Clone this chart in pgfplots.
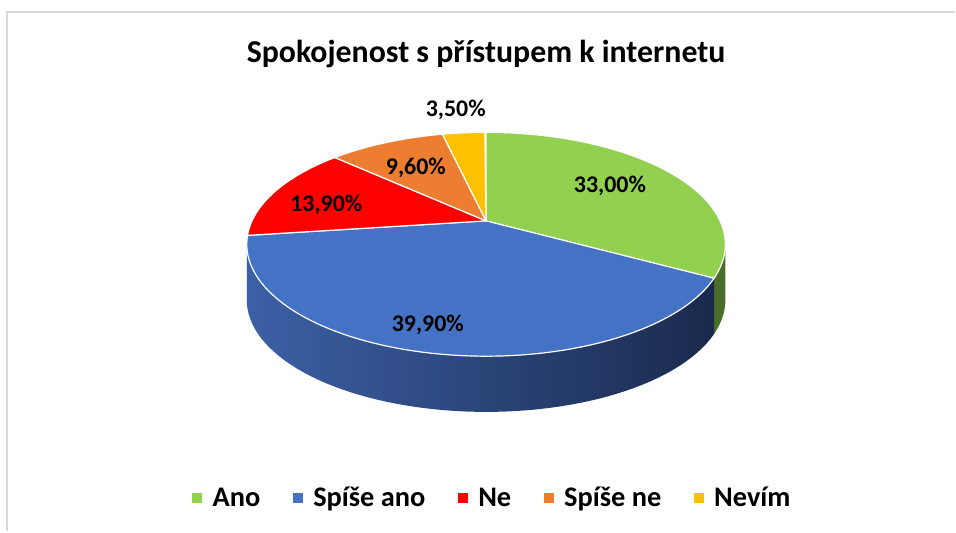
\documentclass[border=0pt]{standalone}
\usepackage{fontspec}
\setmainfont{Carlito}
\usepackage{pgfplots}
\usepackage{pgfplotstable}
\pgfplotsset{compat=1.18}
\definecolor{cAno}{HTML}{92D050}
\definecolor{cSano}{HTML}{4472C4}
\definecolor{cNe}{HTML}{FF0000}
\definecolor{cSne}{HTML}{ED7D31}
\definecolor{cNevim}{HTML}{FFC000}
\definecolor{wallL}{HTML}{3C60A6}
\definecolor{wallR}{HTML}{1A2A4D}
\definecolor{wallG}{HTML}{4A6E2A}
\definecolor{frameC}{HTML}{D9D9D9}

\pgfplotstableread[col sep=comma]{
name,value
Ano,33.0
Spíše ano,39.9
Ne,13.9
Spíše ne,9.6
Nevím,3.5
}\piedata

% top face sector: colour, start angle, end angle
\newcommand{\topslice}[3]{%
\addplot[fill=#1, draw=white, line width=0.6pt, line join=round,
  samples at={-1,0,1,...,72,-1}, variable=\t]
 ({488.5+ifthenelse(\t<-0.5,0,PX((#2)+((#3)-(#2))*\t/72))},
  {286.5+ifthenelse(\t<-0.5,23.5,PY((#2)+((#3)-(#2))*\t/72))});}
% side wall: style, start angle, end angle
\newcommand{\wall}[3]{%
\addplot[#1, draw=none, forget plot,
  samples at={0,1,...,60,100,101,...,160}, variable=\t]
 ({488.5+PX(ifthenelse(\t>80,(#2)+((#3)-(#2))*(160-\t)/60,(#2)+((#3)-(#2))*\t/60))},
  {286.5+PY(ifthenelse(\t>80,(#2)+((#3)-(#2))*(160-\t)/60,(#2)+((#3)-(#2))*\t/60))-ifthenelse(\t>80,56,0)});}

\begin{document}
\begin{tikzpicture}
\pgfplotstablegetelem{0}{value}\of\piedata\pgfmathsetmacro\vA{\pgfplotsretval}%
\pgfplotstablegetelem{1}{value}\of\piedata\pgfmathsetmacro\vB{\pgfplotsretval}%
\pgfplotstablegetelem{2}{value}\of\piedata\pgfmathsetmacro\vC{\pgfplotsretval}%
\pgfplotstablegetelem{3}{value}\of\piedata\pgfmathsetmacro\vD{\pgfplotsretval}%
\pgfplotstablegetelem{4}{value}\of\piedata\pgfmathsetmacro\vE{\pgfplotsretval}%
\pgfmathsetmacro\aA{90}%
\pgfmathsetmacro\aB{\aA-3.6*\vA}%
\pgfmathsetmacro\aC{\aB-3.6*\vB}%
\pgfmathsetmacro\aD{\aC-3.6*\vC}%
\pgfmathsetmacro\aE{\aD-3.6*\vD}%
\pgfmathsetmacro\aF{\aE-3.6*\vE}%
\pgfmathsetmacro\sR{-asin(0.2089)}%
\pgfmathsetmacro\sL{-180+asin(0.2089)}%
\pgfmathsetmacro\bEnd{max(\aC,\sL)}%
\begin{axis}[
  hide axis, scale only axis, width=478pt, height=266pt,
  xmin=0, xmax=956, ymin=0, ymax=532, clip=false,
  declare function={PX(\a)=235.2*cos(\a)/(1+0.2089*sin(\a));
                    PY(\a)=(112.5*sin(\a)+23.5)/(1+0.2089*sin(\a));},
  legend columns=-1,
  legend cell align=left,
  legend style={at={(0.4995,0.058)}, anchor=center, draw=none, fill=none,
    inner sep=0pt, column sep=0pt,
    font=\fontsize{14.25}{16}\selectfont\bfseries,
    nodes={inner sep=0pt, anchor=base west}},
  legend image code/.code={\path (-16pt,0pt) (10pt,0pt);
    \fill[#1, draw=none] (0pt,1.8pt) rectangle (5pt,6.8pt);},
]
\path (axis cs:0,0) rectangle (axis cs:956,532);
\draw[frameC, line width=0.8pt] (axis cs:7,-2) -- (axis cs:7,520) -- (axis cs:960,520);

\wall{fill=wallG}{\sR}{\aB}
\wall{left color=wallL, right color=wallR}{\aB}{\bEnd}

\topslice{cAno}{\aA}{\aB}
\topslice{cSano}{\aB}{\aC}
\topslice{cNe}{\aC}{\aD}
\topslice{cSne}{\aD}{\aE}
\topslice{cNevim}{\aE}{\aF}
\legend{Ano, Spíše ano, Ne, Spíše ne, Nevím}

\node[font=\fontsize{16}{19}\selectfont\bfseries, anchor=base] at (axis cs:488.5,469) {Spokojenost s přístupem k internetu};
\begin{scope}[every node/.style={font=\fontsize{12}{14}\selectfont\bfseries, anchor=base}]
\node at (axis cs:613,339) {33,00\%};
\node at (axis cs:430,199) {39,90\%};
\node at (axis cs:328,319) {13,90\%};
\node at (axis cs:418,357) {9,60\%};
\node at (axis cs:458,415) {3,50\%};
\end{scope}
\end{axis}
\end{tikzpicture}
\end{document}
